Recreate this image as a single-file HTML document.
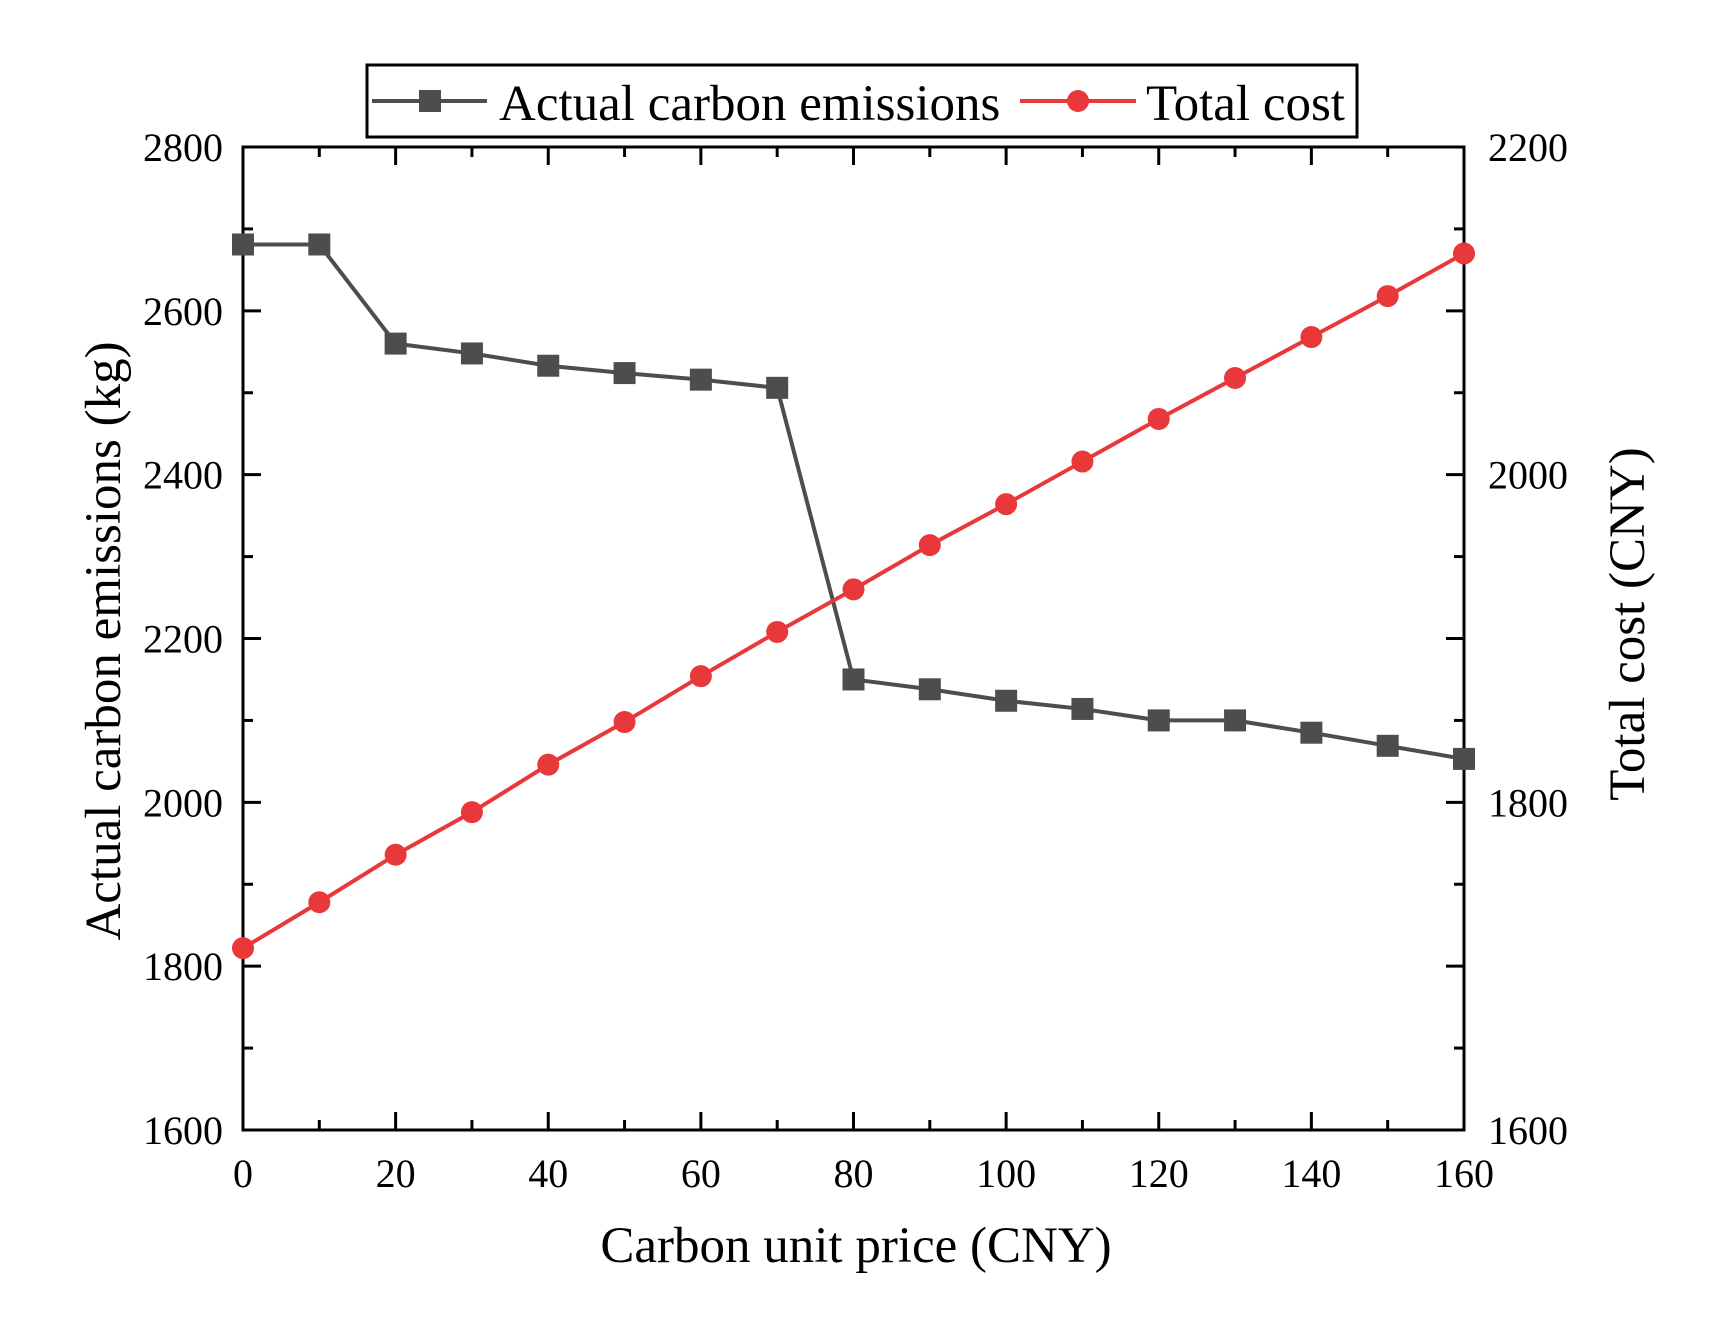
<!DOCTYPE html>
<html><head><meta charset="utf-8"><style>
html,body{margin:0;padding:0;background:#fff;}
svg{display:block;font-family:"Liberation Serif",serif;}
</style></head><body>
<svg id="chart" width="1724" height="1320" viewBox="0 0 1724 1320" xmlns="http://www.w3.org/2000/svg">
<rect width="1724" height="1320" fill="#fff"/>
<g id="grid"></g>
<g id="series"></g>
<g id="legend">
  <rect x="367" y="65" width="990" height="72" fill="#fff" stroke="#000" stroke-width="3"/>
  <g>
    <line x1="372" y1="101" x2="487" y2="101" stroke="#4d4d4d" stroke-width="4"/>
    <rect x="419" y="90" width="22" height="22" fill="#4d4d4d"/>
    <text x="499" y="120" font-size="51" fill="#000">Actual carbon emissions</text>
  </g>
  <g>
    <line x1="1020" y1="101" x2="1136" y2="101" stroke="#e8383a" stroke-width="4"/>
    <circle cx="1078" cy="101" r="11" fill="#e8383a"/>
    <text x="1146" y="120" font-size="51" fill="#000">Total cost</text>
  </g>
</g>
<text x="856" y="1262" font-size="51" text-anchor="middle">Carbon unit price (CNY)</text>
<text transform="translate(120,641) rotate(-90)" font-size="51" text-anchor="middle">Actual carbon emissions (kg)</text>
<text transform="translate(1644,624) rotate(-90)" font-size="51" text-anchor="middle">Total cost (CNY)</text>
</svg>
<script>
const prices = [0,10,20,30,40,50,60,70,80,90,100,110,120,130,140,150,160];
const emissions = [2681,2681,2560,2548,2533,2524,2516,2506,2150,2138,2124,2114,2100,2100,2085,2069,2053];
const totalCost = [1711,1739,1768,1794,1823,1849,1877,1904,1930,1957,1982,2008,2034,2059,2084,2109,2135];
const xTicks = [0,20,40,60,80,100,120,140,160];
const leftTicks = [1600,1800,2000,2200,2400,2600,2800];
const rightTicks = [1600,1800,2000,2200];

const L=243, R=1464, T=147, B=1130;
const xs = v => L + (v-0)/(160-0)*(R-L);
const yl = v => B - (v-1600)/(2800-1600)*(B-T);
const yr = v => B - (v-1600)/(2200-1600)*(B-T);
const NS="http://www.w3.org/2000/svg";
const grid=document.getElementById('grid'), ser=document.getElementById('series');
function mk(tag, attrs, parent){const e=document.createElementNS(NS,tag);for(const k in attrs)e.setAttribute(k,attrs[k]);parent.appendChild(e);return e;}

for(let v=0; v<=160; v+=10){
  const major = v%20===0, len = major?18:10, x=xs(v);
  const t1=mk('line',{x1:x,y1:B,x2:x,y2:B-len,stroke:'#000','stroke-width':3},grid);
  
  
  const t2=mk('line',{x1:x,y1:T,x2:x,y2:T+len,stroke:'#000','stroke-width':3},grid);
  
  
}
for(let v=1600; v<=2800; v+=100){
  const major = v%200===0, len = major?18:10, y=yl(v);
  const t=mk('line',{x1:L,y1:y,x2:L+len,y2:y,stroke:'#000','stroke-width':3},grid);
  
  
  const t2=mk('line',{x1:R,y1:y,x2:R-len,y2:y,stroke:'#000','stroke-width':3},grid);
  
  
}
const frame=mk('rect',{x:L,y:T,width:R-L,height:B-T,fill:'none',stroke:'#000','stroke-width':3},grid);



xTicks.forEach(v=>{
  const t=mk('text',{x:xs(v),y:1187,'font-size':40,'text-anchor':'middle'},grid);
  t.textContent=v;
  
  
});
leftTicks.forEach(v=>{
  const t=mk('text',{x:223,y:yl(v)+14,'font-size':40,'text-anchor':'end'},grid);
  t.textContent=v;
  
  
});
rightTicks.forEach(v=>{
  const t=mk('text',{x:1488,y:yr(v)+14,'font-size':40,'text-anchor':'start'},grid);
  t.textContent=v;
  
  
});

const pe=mk('polyline',{points:prices.map((p,i)=>xs(p)+','+yl(emissions[i])).join(' '),fill:'none',stroke:'#4d4d4d','stroke-width':4},ser);


const pc=mk('polyline',{points:prices.map((p,i)=>xs(p)+','+yr(totalCost[i])).join(' '),fill:'none',stroke:'#e8383a','stroke-width':4},ser);


prices.forEach((p,i)=>{
  const m=mk('rect',{x:xs(p)-11,y:yl(emissions[i])-11,width:22,height:22,fill:'#4d4d4d'},ser);
  
  
  const c=mk('circle',{cx:xs(p),cy:yr(totalCost[i]),r:11,fill:'#e8383a'},ser);
  
  
});
</script>
</body></html>
